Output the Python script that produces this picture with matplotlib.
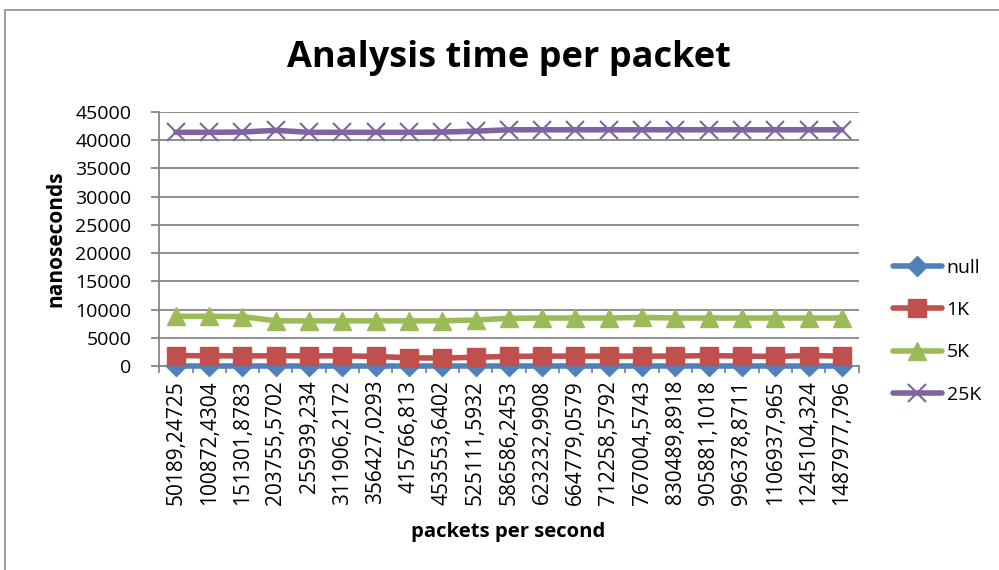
import matplotlib
matplotlib.use("Agg")
import matplotlib.pyplot as plt
from matplotlib.patches import Rectangle

plt.rcParams['font.family'] = ['Open Sans', 'DejaVu Sans']

# packets per second (x categories)
pps_labels = [
    "50189,24725", "100872,4304", "151301,8783", "203755,5702", "255939,234",
    "311906,2172", "356427,0293", "415766,813", "453553,6402", "525111,5932",
    "586586,2453", "623232,9908", "664779,0579", "712258,5792", "767004,5743",
    "830489,8918", "905881,1018", "996378,8711", "1106937,965", "1245104,324",
    "1487977,796",
]

# analysis time per packet in nanoseconds
null_ns = [60, 60, 60, 60, 60, 60, 60, 60, 60, 60,
           60, 60, 60, 60, 60, 60, 60, 60, 60, 60, 60]
k1_ns = [1850, 1800, 1800, 1800, 1800, 1800, 1700, 1450, 1400, 1550,
         1700, 1750, 1750, 1750, 1750, 1750, 1850, 1750, 1700, 1850, 1750]
k5_ns = [8800, 8800, 8750, 8000, 8000, 8000, 8000, 8000, 8000, 8150,
         8450, 8500, 8500, 8500, 8600, 8500, 8500, 8500, 8500, 8500, 8500]
k25_ns = [41400, 41400, 41450, 41750, 41400, 41400, 41400, 41400, 41450, 41600,
          41850, 41850, 41850, 41850, 41850, 41850, 41850, 41850, 41850, 41850, 41850]

series_names = ["null", "1K", "5K", "25K"]
series_values = [null_ns, k1_ns, k5_ns, k25_ns]
series_colors = ["#4F81BD", "#C0504D", "#9BBB59", "#8064A2"]
series_markers = ["D", "s", "^", "x"]
marker_sizes = [10, 13, 13, 13]

fig = plt.figure(figsize=(9.99, 5.70), dpi=100)
ax = fig.add_axes([0.1594, 0.3579, 0.7000, 0.4456])

n = len(pps_labels)
xs = list(range(n))
for name, vals, col, mk, ms in zip(series_names, series_values, series_colors,
                                   series_markers, marker_sizes):
    kw = dict(color=col, lw=4, marker=mk, markersize=ms, label=name,
              markerfacecolor=col, markeredgecolor=col, solid_capstyle='round',
              clip_on=False, zorder=3)
    if mk == "x":
        kw.update(markeredgewidth=1.5)
    ax.plot(xs, vals, **kw)

grid_col = "#868686"
ax.set_ylim(0, 45000)
ax.set_xlim(-0.5, n - 0.5)
ax.set_yticks(range(0, 45001, 5000))
ax.yaxis.grid(True, color=grid_col, lw=1.3)
ax.set_axisbelow(True)
for s in ["top", "right"]:
    ax.spines[s].set_visible(False)
for s in ["left", "bottom"]:
    ax.spines[s].set_color(grid_col)
    ax.spines[s].set_linewidth(1.3)

ax.set_xticks(xs)
ax.set_xticklabels(pps_labels, rotation=90, fontsize=15, va="top", ha="center")
ax.set_xticks([i - 0.5 for i in range(n + 1)], minor=True)
ax.tick_params(axis="x", which="major", length=0, pad=10)
ax.tick_params(axis="x", which="minor", length=5, color=grid_col, width=1.3)
ax.tick_params(axis="y", length=6, color=grid_col, width=1.3, labelsize=14, pad=14)

fig.text(0.509, 0.898, "Analysis time per packet", ha="center", va="center",
         fontsize=26, fontweight="bold")
fig.text(0.056, 0.582, "nanoseconds", rotation=90, ha="center", va="center",
         fontsize=15, fontweight="bold")
fig.text(0.509, 0.067, "packets per second", ha="center", va="center",
         fontsize=14.6, fontweight="bold")

fig.legend(loc="center left", bbox_to_anchor=(0.894, 0.419), frameon=False,
           fontsize=14, handlelength=2.5, handletextpad=0.25, labelspacing=1.25,
           borderpad=0, borderaxespad=0)

# outer chart frame
fig.patches.append(Rectangle((5 / 999, -0.1), 1.2, (570 - 10) / 570 + 0.1,
                             transform=fig.transFigure, fill=False,
                             edgecolor="#8c8c8c", lw=1.2))

fig.savefig("out.png", dpi=100)
